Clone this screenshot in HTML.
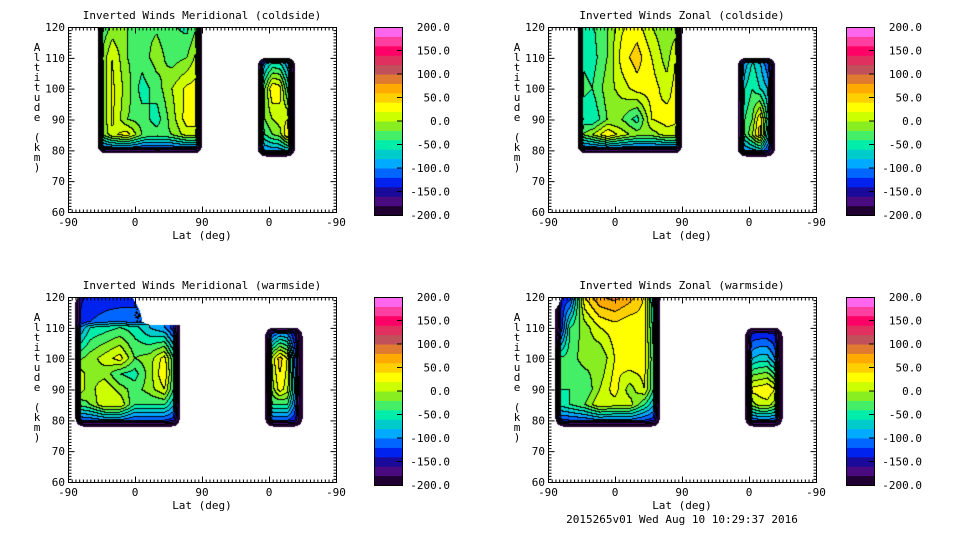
<!DOCTYPE html>
<html><head><meta charset="utf-8">
<style>
html,body{margin:0;padding:0;background:#fff;}
body{width:960px;height:540px;position:relative;overflow:hidden;font-family:"DejaVu Sans Mono","Liberation Mono",monospace;font-size:11px;color:#000;}
canvas{position:absolute;}
svg{position:absolute;left:0;top:0;}
</style></head>
<body>
<canvas id="c0" width="268" height="185" style="left:68px;top:27px"></canvas>
<canvas id="c1" width="268" height="185" style="left:548px;top:27px"></canvas>
<canvas id="c2" width="268" height="185" style="left:68px;top:297px"></canvas>
<canvas id="c3" width="268" height="185" style="left:548px;top:297px"></canvas>
<svg id="ov" width="960" height="540"></svg>
<script>
// colour scale (20 bands from -200 to 200)
const bandColors=["#200030","#4a0a80","#1a0a99","#0022ee","#0066ff","#00aaff","#00cccc","#00eeaa","#44ee66","#88ee22","#ccff00","#ffff00","#ffd000","#ffaa00","#e07a30","#c0505a","#e03060","#ff0066","#ff3fa0","#ff66ee"];
const cbarTicks=[200,150,100,50,0,-50,-100,-150,-200];
const xTickLabels=["-90","0","90","0","-90"];
const yTicks=[120,110,100,90,80,70,60];
const titles=["Inverted Winds Meridional (coldside)","Inverted Winds Zonal (coldside)","Inverted Winds Meridional (warmside)","Inverted Winds Zonal (warmside)"];

// Top-left: Meridional coldside
const tlA_lats=[-50,-30,-10,10,30,50,70,90];
const tlA_alts=[125,110,100,90,85,79];
const tlA_vals=[[-60,-30,-20,-20,-30,-40,-60,-20],[-30,20,-20,-30,-10,-30,-20,20],[-40,25,-10,-50,-30,0,25,30],[-40,25,-20,-30,-50,-10,30,30],[-40,15,30,-20,-30,-20,10,10],[-150,-150,-150,-150,-150,-150,-150,-150]];
const tlB_lats=[15,5,-5,-15,-25,-35];
const tlB_alts=[110,100,90,85,78];
const tlB_vals=[[-150,-100,-80,-80,-100,-150],[-100,-20,40,30,-40,-100],[-100,-20,0,10,20,-100],[-100,-40,-20,-10,40,-60],[-150,-120,-120,-120,-120,-150]];
// Top-right: Zonal coldside
const trA_lats=[-50,-30,-10,10,30,50,70,90];
const trA_alts=[125,110,100,90,85,79];
const trA_vals=[[-60,-40,-20,10,20,-10,-20,-30],[-40,-50,-20,30,50,20,-10,40],[-30,-40,-10,10,30,30,10,40],[-50,-60,-20,-20,-50,20,30,20],[-30,0,40,10,-10,-10,10,10],[-150,-150,-150,-150,-150,-150,-150,-150]];
const trB_lats=[15,5,-5,-15,-25,-35];
const trB_alts=[110,100,90,85,78];
const trB_vals=[[-150,-100,-60,-80,-120,-150],[-150,-60,-40,-60,-80,-150],[-150,-40,-20,40,-40,-150],[-150,-40,0,50,-60,-150],[-150,-120,-120,-120,-140,-150]];
// Bottom-left: Meridional warmside
const blA_lats=[-80,-60,-40,-20,0,20,40,60];
const blA_alts=[125,112,110,100,95,90,85,78];
const blA_vals=[[null,-150,-150,-160,null,null,null,null],[-150,-120,-110,-100,-120,null,null,null],[-120,-60,-50,-40,-50,-80,-100,-150],[-30,-10,10,30,-20,-10,30,-80],[20,-10,-10,-40,-50,-10,40,-80],[20,-10,20,-10,-30,-10,20,-80],[-40,-20,20,20,-40,-40,-40,-100],[-150,-150,-150,-150,-150,-150,-150,-150]];
const blB_lats=[5,-5,-15,-25,-35,-45];
const blB_alts=[110,100,90,85,78];
const blB_vals=[[-200,-150,-130,-130,-150,-200],[-200,10,50,20,-100,-200],[-200,-10,30,10,-80,-200],[-200,-40,-40,-40,-100,-200],[-200,-150,-150,-150,-150,-200]];
// Bottom-right: Zonal warmside
const brA_lats=[-80,-60,-40,-20,0,20,40,60];
const brA_alts=[122,110,100,90,85,78];
const brA_vals=[[null,-150,50,90,100,80,40,-150],[-200,-40,-10,20,30,20,30,-100],[-40,-30,-10,-20,20,40,30,-80],[-40,-40,-40,0,30,-10,20,-80],[-60,-40,-20,20,10,10,-40,-100],[-150,-150,-150,-150,-150,-150,-150,-150]];
const brB_lats=[5,-5,-15,-25,-35,-45];
const brB_alts=[110,100,90,85,78];
const brB_vals=[[-200,-150,-150,-150,-150,-200],[-200,-80,-70,-70,-100,-200],[-200,30,30,40,20,-200],[-200,-10,10,10,-10,-200],[-200,-150,-150,-150,-150,-200]];

const panels=[
 [{side:'L',lats:tlA_lats,alts:tlA_alts,vals:tlA_vals},{side:'R',lats:tlB_lats,alts:tlB_alts,vals:tlB_vals}],
 [{side:'L',lats:trA_lats,alts:trA_alts,vals:trA_vals},{side:'R',lats:trB_lats,alts:trB_alts,vals:trB_vals}],
 [{side:'L',lats:blA_lats,alts:blA_alts,vals:blA_vals},{side:'R',lats:blB_lats,alts:blB_alts,vals:blB_vals}],
 [{side:'L',lats:brA_lats,alts:brA_alts,vals:brA_vals},{side:'R',lats:brB_lats,alts:brB_alts,vals:brB_vals}]
];

const W=268,H=185;
function uOf(side,lat){return side==='L'?lat+90:270-lat;}
function xPx(u){return u*W/360;}
function yPx(a){return (120-a)*H/60;}
function hex(c){return [parseInt(c.slice(1,3),16),parseInt(c.slice(3,5),16),parseInt(c.slice(5,7),16)];}
const rgb=bandColors.map(hex);

function sample(reg,px,py){
  const us=reg.lats.map(l=>uOf(reg.side,l));
  const xs=us.map(xPx), ys=reg.alts.map(yPx);
  const x0=Math.min(xs[0],xs[xs.length-1]), x1=Math.max(xs[0],xs[xs.length-1]);
  const y0=ys[0], y1=ys[ys.length-1];
  if(px<x0||px>x1||py<y0||py>y1) return undefined;
  const r=8;
  let cx=null,cy=null;
  if(px<x0+r) cx=x0+r; else if(px>x1-r) cx=x1-r;
  if(py<y0+r) cy=y0+r; else if(py>y1-r) cy=y1-r;
  let d;
  if(cx!==null&&cy!==null){const dd=Math.hypot(px-cx,py-cy); if(dd>r) return undefined; d=r-dd;}
  else d=Math.min(px-x0,x1-px,py-y0,y1-py);
  if(y0<0) d=Math.min(px-x0,x1-px,y1-py, cx!==null&&cy!==null&&py>y1-r?d:1e9);
  let i=0; while(i<xs.length-2&&px>xs[i+1]) i++;
  let j=0; while(j<ys.length-2&&py>ys[j+1]) j++;
  const tx=Math.max(0,Math.min(1,(px-xs[i])/(xs[i+1]-xs[i])));
  const ty=Math.max(0,Math.min(1,(py-ys[j])/(ys[j+1]-ys[j])));
  const c=[[reg.vals[j][i],(1-tx)*(1-ty)],[reg.vals[j][i+1],tx*(1-ty)],[reg.vals[j+1][i],(1-tx)*ty],[reg.vals[j+1][i+1],tx*ty]];
  let sw=0,sv=0,nw=0;
  c.forEach(([v,w])=>{if(v===null)nw+=w;else{sw+=w;sv+=v*w;}});
  if(nw>0.5||sw===0) return undefined;
  let v=sv/sw;
  const t=Math.min(1,d/6);
  v=-200+(v+200)*t;
  return v;
}

panels.forEach((regs,k)=>{
  const cv=document.getElementById('c'+k), ctx=cv.getContext('2d');
  const img=ctx.createImageData(W,H);
  const band=new Int16Array(W*H).fill(-1);
  for(let y=0;y<H;y++)for(let x=0;x<W;x++){
    let v;
    for(const r of regs){const s=sample(r,x+0.5,y+0.5); if(s!==undefined){v=s;break;}}
    if(v!==undefined){band[y*W+x]=Math.max(0,Math.min(19,Math.floor((v+200)/20)));}
  }
  for(let y=0;y<H;y++)for(let x=0;x<W;x++){
    const b=band[y*W+x], o=(y*W+x)*4;
    let col=[255,255,255];
    if(b>=0){
      col=rgb[b];
      const br=x<W-1?band[y*W+x+1]:-1, bd=y<H-1?band[(y+1)*W+x]:-1;
      if((br>=0&&br!==b)||(bd>=0&&bd!==b)) col=[0,0,0];
    }
    img.data[o]=col[0];img.data[o+1]=col[1];img.data[o+2]=col[2];img.data[o+3]=255;
  }
  ctx.putImageData(img,0,0);
});

const NS="http://www.w3.org/2000/svg";
const ov=document.getElementById('ov');
function el(tag,attrs,parent){const e=document.createElementNS(NS,tag);for(const a in attrs)e.setAttribute(a,attrs[a]);(parent||ov).appendChild(e);return e;}
function txt(x,y,s,anchor,parent){const t=el('text',{x:x,y:y,'text-anchor':anchor,'font-family':'DejaVu Sans Mono, Liberation Mono, monospace','font-size':'11'},parent);t.textContent=s;return t;}
const origins=[[68,27,374],[548,27,846],[68,297,374],[548,297,846]];
origins.forEach(([fx,fy,cbx],k)=>{
  const g=el('g',{});
  
  
  el('rect',{x:fx+0.5,y:fy+0.5,width:W,height:H,fill:'none',stroke:'#000','stroke-width':1},g);
  let p='';
  for(let u=0;u<=360;u+=5){const x=fx+0.5+xPx(u);const L=(u%90===0)?6:3;p+=`M${x} ${fy+H+0.5}v${-L}M${x} ${fy+0.5}v${L}`;}
  for(let a=60;a<=120;a+=1){const y=fy+0.5+yPx(a);const L=(a%10===0)?6:3;p+=`M${fx+0.5} ${y}h${L}M${fx+W+0.5} ${y}h${-L}`;}
  el('path',{d:p,stroke:'#000','stroke-width':1,fill:'none'},g);
  xTickLabels.forEach((s,i)=>{const t=txt(fx+xPx(i*90),fy+H+14,s,'middle',g);});
  yTicks.forEach(a=>{const t=txt(fx-3,fy+yPx(a)+4,String(a),'end',g);});
  const xt=txt(fx+W/2,fy+H+27,'Lat (deg)','middle',g);
  
  
  const tt=txt(fx+W/2,fy-8,titles[k],'middle',g);
  
  
  const ya=el('text',{x:fx-31,y:fy+20,'font-family':'DejaVu Sans Mono, Liberation Mono, monospace','font-size':'11','text-anchor':'middle'},g);
  
  
  'Altitude (km)'.split('').forEach((ch,i)=>{const ts=el('tspan',{x:fx-31,y:fy+24+i*10},ya);ts.textContent=ch;});
  const cb=el('g',{},g);
  
  
  const cbTop=fy, cbH=188, bh=cbH/20;
  bandColors.forEach((c,i)=>{el('rect',{x:cbx,y:cbTop+cbH-(i+1)*bh,width:28,height:bh+0.5,fill:c},cb);});
  el('rect',{x:cbx+0.5,y:cbTop+0.5,width:28,height:cbH,fill:'none',stroke:'#000'},cb);
  cbarTicks.forEach(v=>{const y=cbTop+cbH*(200-v)/400;
    if(v>-200&&v<200) el('path',{d:`M${cbx+28} ${y}h-5`,stroke:'#000'},cb);
    const t=txt(cbx+76,y+4,v.toFixed(1),'end',cb);
    
    
  });
});
const ft=txt(682,523,'2015265v01 Wed Aug 10 10:29:37 2016','middle');


</script>
</body></html>
